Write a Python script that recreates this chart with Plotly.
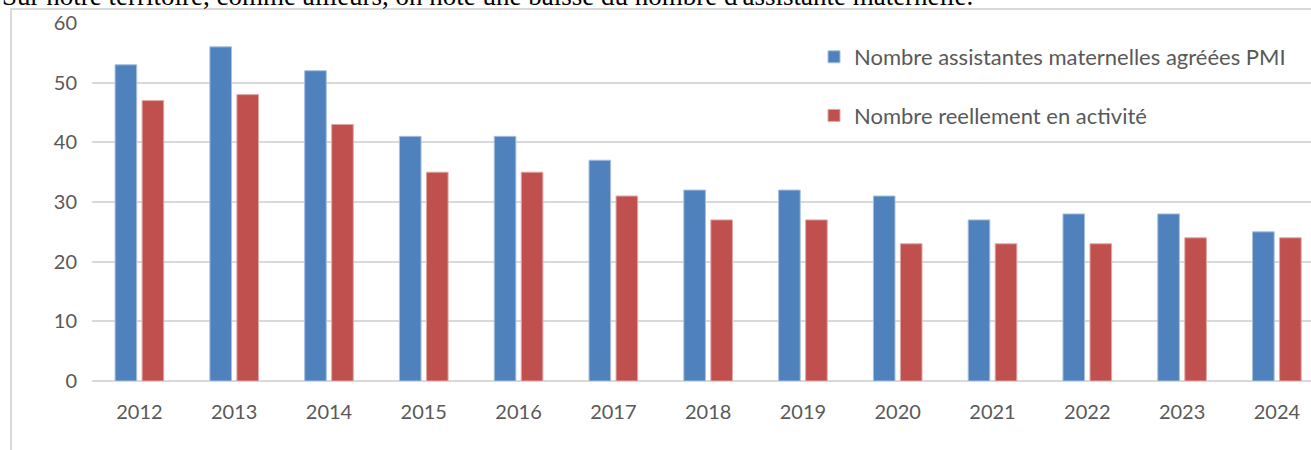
import plotly.graph_objects as go

years = ['2012', '2013', '2014', '2015', '2016', '2017', '2018',
         '2019', '2020', '2021', '2022', '2023', '2024']
agreees_pmi = [53, 56, 52, 41, 41, 37, 32, 32, 31, 27, 28, 28, 25]
en_activite = [47, 48, 43, 35, 35, 31, 27, 27, 23, 23, 23, 24, 24]
y_ticks = [0, 10, 20, 30, 40, 50, 60]

title_text = "Sur notre territoire, comme ailleurs, on note une baisse du nombre d'assistante maternelle."
grey_text = '#595959'
grid_color = '#d9d9d9'

# plot area in pixels: left 92, right 1311, top 23, bottom 381
left, top, bottom, width = 92, 23, 381, 1219


def px_x(p):
    return (p - left) / width


def px_y(p):
    return (bottom - p) / (bottom - top)


fig = go.Figure()
fig.add_trace(go.Bar(
    x=years, y=agreees_pmi, name='Nombre assistantes maternelles agréées PMI',
    marker=dict(color='#4f81bd', line=dict(color='#a7bfdd', width=1)),
    legendgroup='a'
))
fig.add_trace(go.Bar(
    x=years, y=en_activite, name='Nombre reellement en activité',
    marker=dict(color='#c0504d', line=dict(color='#dfa7a6', width=1)),
    legendgroup='b'
))

fig.update_layout(
    width=1311, height=450,
    margin=dict(l=left, r=0, t=top, b=450 - bottom),
    paper_bgcolor='white', plot_bgcolor='white',
    barmode='group', bargap=0.43, bargroupgap=0.2,
    font=dict(family='Lato', size=20, color=grey_text),
    showlegend=True,
    legend=dict(
        x=px_x(814), y=px_y(36), xanchor='left', yanchor='top',
        bgcolor='rgba(0,0,0,0)', tracegroupgap=27,
        font=dict(family='Lato', size=22, color=grey_text)
    ),
    xaxis=dict(
        type='category', range=[-0.5, 12.36],
        showgrid=False, showline=False, ticks='',
        tickfont=dict(size=20, color=grey_text), ticklabelstandoff=17
    ),
    yaxis=dict(
        range=[0, 60], tickvals=y_ticks, showgrid=True, gridcolor=grid_color,
        gridwidth=2, zeroline=True, zerolinecolor=grid_color, zerolinewidth=2,
        showline=False, ticks='', tickfont=dict(size=20, color=grey_text),
        ticklabelstandoff=14
    ),
    shapes=[dict(
        type='rect', xref='paper', yref='paper',
        x0=px_x(11), x1=px_x(1330), y0=px_y(470), y1=px_y(9),
        line=dict(color=grid_color, width=2), fillcolor='rgba(0,0,0,0)', layer='below'
    )],
    annotations=[dict(
        text=title_text, xref='paper', yref='paper',
        x=px_x(0), y=px_y(13), xanchor='left', yanchor='bottom',
        showarrow=False, font=dict(family='Liberation Serif', size=27, color='black')
    )]
)

# the page margin would shift the figure by 8px
fig.write_html('out.html', config={'displayModeBar': False},
               post_script="document.body.style.margin='0';")
